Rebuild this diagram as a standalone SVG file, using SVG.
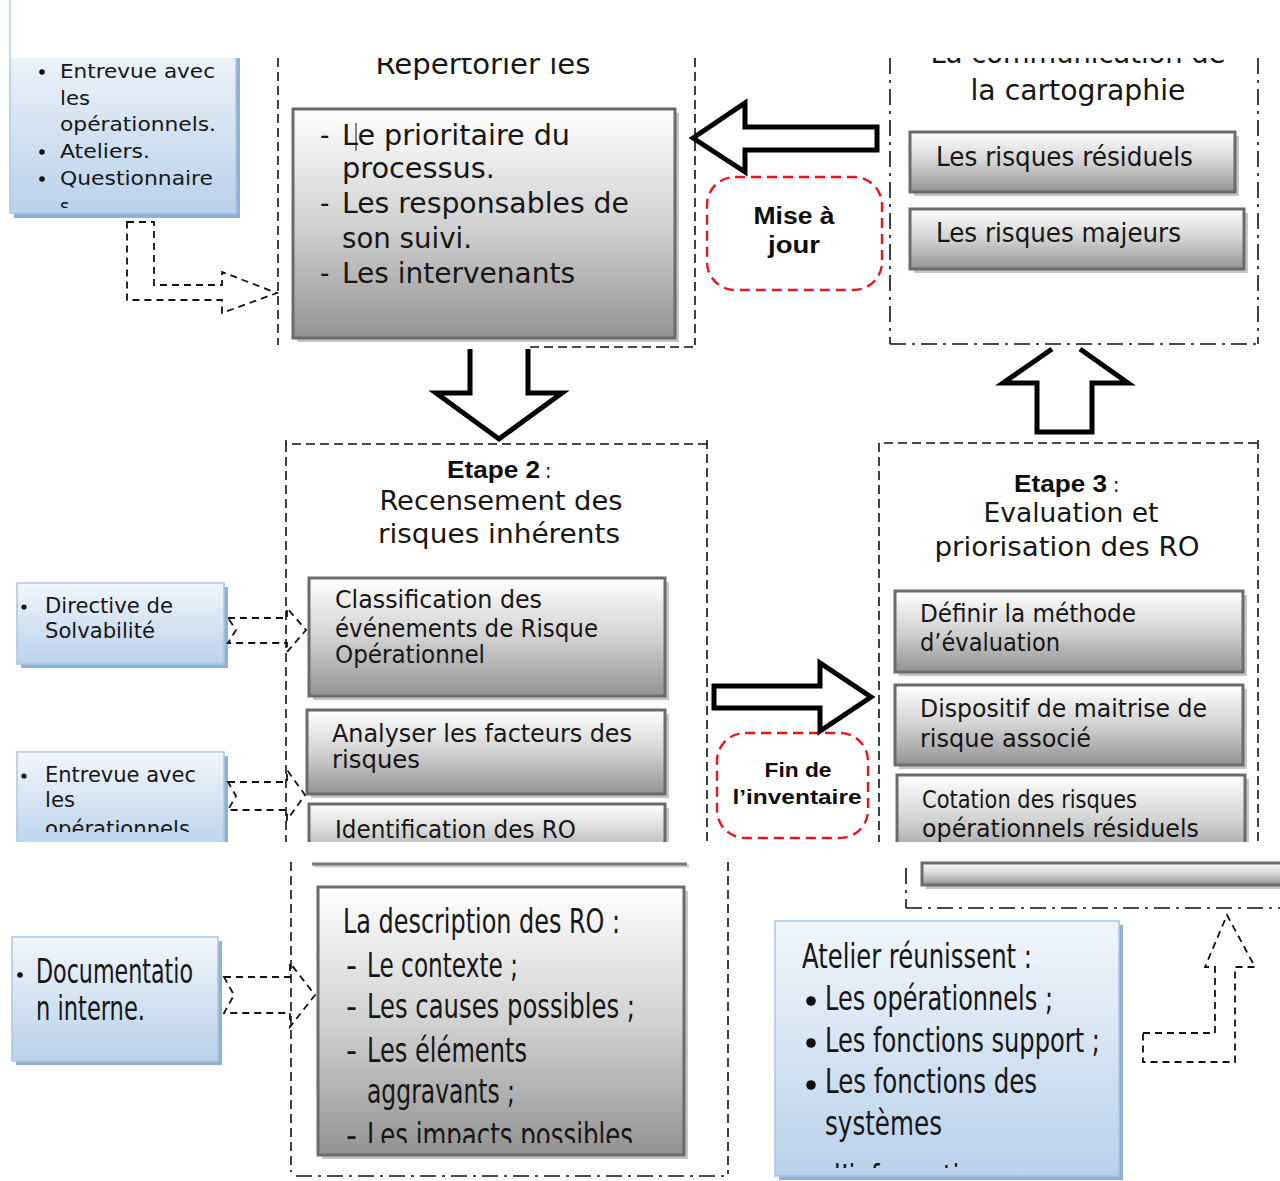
<svg xmlns="http://www.w3.org/2000/svg" width="1280" height="1181" viewBox="0 0 1280 1181">
<style>
.fr{fill:none;stroke:#111;stroke-width:1.6;stroke-dasharray:9 5}
.fdd{fill:none;stroke:#111;stroke-width:1.6;stroke-dasharray:16 6 3 6}
.gbox{fill:url(#gg);stroke:#6b6b6b;stroke-width:3}
.gsh{fill:#c6c6c6}
.bbox{fill:url(#bg);stroke:#a9c6e4;stroke-width:1.5}
.bsh{fill:#90b0d4}
.harrow{fill:#fff;stroke:#000;stroke-width:5;stroke-linejoin:miter}
.darrow{fill:none;stroke:#111;stroke-width:1.8;stroke-dasharray:7 5}
.red{fill:none;stroke:#e8141e;stroke-width:2.4;stroke-dasharray:10 6}
.u{font-family:"DejaVu Sans Condensed","DejaVu Sans",sans-serif;fill:#161616}
.n{font-family:"Liberation Sans Narrow","DejaVu Sans Condensed","Liberation Sans",sans-serif;fill:#161616;font-size:34px}
.b{font-family:"Liberation Sans",Arial,sans-serif;font-weight:bold;fill:#0d0d0d}
</style>
<defs>
<linearGradient id="gg" x1="0" y1="0" x2="0" y2="1">
<stop offset="0" stop-color="#ffffff"/><stop offset="0.5" stop-color="#d2d2d2"/><stop offset="1" stop-color="#939393"/>
</linearGradient>
<linearGradient id="bg" x1="0" y1="0" x2="0" y2="1">
<stop offset="0" stop-color="#f1f6fc"/><stop offset="1" stop-color="#b9d1ea"/>
</linearGradient>
<clipPath id="cUp"><rect x="0" y="58" width="1280" height="784"/></clipPath>
<clipPath id="cTL"><rect x="10" y="58" width="230" height="150"/></clipPath>
<clipPath id="cEnt"><rect x="17" y="752" width="210" height="80"/></clipPath>
<clipPath id="cDesc"><rect x="318" y="887" width="366" height="256"/></clipPath>
<clipPath id="cAt"><rect x="775" y="921" width="348" height="247"/></clipPath>
</defs>
<rect width="1280" height="1181" fill="#fff"/>
<line x1="10" y1="0" x2="10" y2="58" stroke="#b7cfe9" stroke-width="1.5"/>

<g clip-path="url(#cUp)">
<g id="frames-top">
<line class="fr" x1="278" y1="58" x2="278" y2="345"/>
<line class="fr" x1="695" y1="58" x2="695" y2="345"/>
<line class="fr" x1="530" y1="347" x2="695" y2="347"/>
<line class="fdd" x1="890" y1="58" x2="890" y2="344"/>
<line class="fdd" x1="1258" y1="58" x2="1258" y2="344"/>
<line class="fdd" x1="890" y1="344" x2="1258" y2="344"/>
</g>
<g id="frame-etape2">
<path class="fr" d="M286,844 L286,444 L707,444 M286,440 L286,449 M707,440 L707,844"/>
</g>
<g id="frame-etape3">
<path class="fr" d="M879,844 L879,443 L1258,443 M1258,440 L1258,844"/>
</g>

<g id="node-methodes">
<rect class="bsh" x="14" y="44" width="226" height="174"/>
<rect class="bbox" x="10" y="40" width="226" height="173"/>
<g clip-path="url(#cTL)">
<circle cx="42" cy="72" r="2.8" fill="#111"/>
<circle cx="42" cy="152" r="2.8" fill="#111"/>
<circle cx="42" cy="179" r="2.8" fill="#111"/>
<g class="u" font-size="20">
<text x="60" y="78" textLength="155" lengthAdjust="spacingAndGlyphs">Entrevue avec</text>
<text x="60" y="105" textLength="30" lengthAdjust="spacingAndGlyphs">les</text>
<text x="60" y="131" textLength="156" lengthAdjust="spacingAndGlyphs">opérationnels.</text>
<text x="60" y="158" textLength="90" lengthAdjust="spacingAndGlyphs">Ateliers.</text>
<text x="60" y="185" textLength="153" lengthAdjust="spacingAndGlyphs">Questionnaire</text>
<text x="60" y="213">s</text>
</g>
</g>
</g>

<g id="node-repertorier">
<text class="u" font-size="29" x="483" y="74" text-anchor="middle" textLength="215" lengthAdjust="spacingAndGlyphs">Répertorier les</text>
<rect class="gsh" x="297" y="113" width="382" height="229"/>
<rect class="gbox" x="293" y="109" width="382" height="229"/>
<g class="u" font-size="29">
<text x="320" y="145">-</text>
<text x="342" y="145" textLength="228" lengthAdjust="spacingAndGlyphs">Le prioritaire du</text>
<text x="342" y="178" textLength="153" lengthAdjust="spacingAndGlyphs">processus.</text>
<text x="320" y="213">-</text>
<text x="342" y="213" textLength="287" lengthAdjust="spacingAndGlyphs">Les responsables de</text>
<text x="342" y="248" textLength="130" lengthAdjust="spacingAndGlyphs">son suivi.</text>
<text x="320" y="283">-</text>
<text x="342" y="283" textLength="233" lengthAdjust="spacingAndGlyphs">Les intervenants</text>
</g>
<line x1="356" y1="123" x2="356" y2="151" stroke="#111" stroke-width="1"/>
</g>

<g id="node-mise-a-jour">
<rect class="red" x="707" y="177" width="175" height="113" rx="28"/>
<text class="b" font-size="23" x="794" y="224" text-anchor="middle" textLength="81" lengthAdjust="spacingAndGlyphs">Mise à</text>
<text class="b" font-size="23" x="794" y="253" text-anchor="middle" textLength="52" lengthAdjust="spacingAndGlyphs">jour</text>
</g>

<g id="node-communication">
<text class="u" font-size="29" x="1078" y="63" text-anchor="middle" textLength="295" lengthAdjust="spacingAndGlyphs">La communication de</text>
<text class="u" font-size="29" x="1078" y="100" text-anchor="middle" textLength="215" lengthAdjust="spacingAndGlyphs">la cartographie</text>
<rect class="gsh" x="914" y="136" width="325" height="60"/>
<rect class="gbox" x="910" y="132" width="325" height="60"/>
<text class="u" font-size="26" x="936" y="166" textLength="257" lengthAdjust="spacingAndGlyphs">Les risques résiduels</text>
<rect class="gsh" x="914" y="213" width="334" height="60"/>
<rect class="gbox" x="910" y="209" width="334" height="60"/>
<text class="u" font-size="26" x="936" y="242" textLength="245" lengthAdjust="spacingAndGlyphs">Les risques majeurs</text>
</g>

<g id="node-etape2">
<text class="b" font-size="23" x="447" y="478" textLength="93" lengthAdjust="spacingAndGlyphs">Etape 2</text>
<text class="u" font-size="21" x="545" y="478">:</text>
<text class="u" font-size="26" x="501" y="510" text-anchor="middle" textLength="243" lengthAdjust="spacingAndGlyphs">Recensement des</text>
<text class="u" font-size="26" x="499" y="543" text-anchor="middle" textLength="242" lengthAdjust="spacingAndGlyphs">risques inhérents</text>
<rect class="gsh" x="313" y="582" width="356" height="118"/>
<rect class="gbox" x="309" y="578" width="356" height="118"/>
<g class="u" font-size="24">
<text x="335" y="608" textLength="207" lengthAdjust="spacingAndGlyphs">Classification des</text>
<text x="335" y="637" textLength="263" lengthAdjust="spacingAndGlyphs">événements de Risque</text>
<text x="335" y="663" textLength="150" lengthAdjust="spacingAndGlyphs">Opérationnel</text>
</g>
<rect class="gsh" x="311" y="714" width="358" height="84"/>
<rect class="gbox" x="307" y="710" width="358" height="84"/>
<g class="u" font-size="24">
<text x="332" y="742" textLength="300" lengthAdjust="spacingAndGlyphs">Analyser les facteurs des</text>
<text x="332" y="768" textLength="88" lengthAdjust="spacingAndGlyphs">risques</text>
</g>
<rect class="gsh" x="313" y="808" width="356" height="60"/>
<rect class="gbox" x="309" y="804" width="356" height="60"/>
<text class="u" font-size="24" x="335" y="838" textLength="241" lengthAdjust="spacingAndGlyphs">Identification des RO</text>
</g>

<g id="node-directive">
<rect class="bsh" x="21" y="587" width="207" height="81"/>
<rect class="bbox" x="17" y="583" width="207" height="81"/>
<circle cx="24" cy="607" r="2.6" fill="#111"/>
<g class="u" font-size="21">
<text x="45" y="613" textLength="128" lengthAdjust="spacingAndGlyphs">Directive de</text>
<text x="45" y="638" textLength="110" lengthAdjust="spacingAndGlyphs">Solvabilité</text>
</g>
</g>

<g id="node-entrevue">
<rect class="bsh" x="21" y="756" width="207" height="100"/>
<rect class="bbox" x="17" y="752" width="207" height="100"/>
<circle cx="24" cy="776" r="2.6" fill="#111"/>
<g clip-path="url(#cEnt)" class="u" font-size="21">
<text x="45" y="782" textLength="151" lengthAdjust="spacingAndGlyphs">Entrevue avec</text>
<text x="45" y="807" textLength="30" lengthAdjust="spacingAndGlyphs">les</text>
<text x="45" y="836" textLength="145" lengthAdjust="spacingAndGlyphs">opérationnels</text>
</g>
</g>

<g id="node-fin-inventaire">
<rect class="red" x="717" y="733" width="151" height="105" rx="28"/>
<text class="b" font-size="21" x="798" y="777" text-anchor="middle" textLength="67" lengthAdjust="spacingAndGlyphs">Fin de</text>
<text class="b" font-size="21" x="797" y="804" text-anchor="middle" textLength="129" lengthAdjust="spacingAndGlyphs">l’inventaire</text>
</g>

<g id="node-etape3">
<text class="b" font-size="23" x="1014" y="492" textLength="93" lengthAdjust="spacingAndGlyphs">Etape 3</text>
<text class="u" font-size="21" x="1113" y="492">:</text>
<text class="u" font-size="26" x="1071" y="522" text-anchor="middle" textLength="175" lengthAdjust="spacingAndGlyphs">Evaluation et</text>
<text class="u" font-size="26" x="1067" y="556" text-anchor="middle" textLength="265" lengthAdjust="spacingAndGlyphs">priorisation des RO</text>
<rect class="gsh" x="899" y="595" width="348" height="81"/>
<rect class="gbox" x="895" y="591" width="348" height="81"/>
<g class="u" font-size="24">
<text x="920" y="622" textLength="216" lengthAdjust="spacingAndGlyphs">Définir la méthode</text>
<text x="920" y="651" textLength="140" lengthAdjust="spacingAndGlyphs">d’évaluation</text>
</g>
<rect class="gsh" x="899" y="689" width="348" height="80"/>
<rect class="gbox" x="895" y="685" width="348" height="80"/>
<g class="u" font-size="24">
<text x="920" y="717" textLength="287" lengthAdjust="spacingAndGlyphs">Dispositif de maitrise de</text>
<text x="920" y="747" textLength="171" lengthAdjust="spacingAndGlyphs">risque associé</text>
</g>
<rect class="gsh" x="901" y="779" width="348" height="90"/>
<rect class="gbox" x="897" y="775" width="348" height="90"/>
<g class="u" font-size="24">
<text x="922" y="808" textLength="215" lengthAdjust="spacingAndGlyphs">Cotation des risques</text>
<text x="922" y="837" textLength="277" lengthAdjust="spacingAndGlyphs">opérationnels résiduels</text>
</g>
</g>

<g id="connectors-top">
<path class="darrow" d="M127,222 L154,222 L154,285 L222,285 L222,272 L277,293 L222,313 L222,300 L127,300 Z"/>
<polygon class="harrow" points="693,138 745,103 745,127 877,127 877,150 745,150 745,172"/>
<path class="harrow" d="M470,349 L470,393 L436,393 L499,439 L562,393 L528,393 L528,349"/>
<path class="harrow" d="M1052,349 L1003,383 L1037,383 L1037,432 L1092,432 L1092,383 L1128,383 L1080,349"/>
<polygon class="harrow" points="714,686 820,686 820,663 871,697 820,731 820,708 714,708"/>
<polygon class="darrow" points="228,618 287,618 287,608 306,630 287,652 287,643 228,643 236,630"/>
<polygon class="darrow" points="228,782 287,782 287,770 305,795 287,820 287,810 228,810 236,796"/>
</g>
</g>

<g id="frames-bottom">
<line class="fr" x1="291" y1="862" x2="291" y2="1172"/>
<line class="fr" x1="728" y1="862" x2="728" y2="1174"/>
<line class="fdd" x1="296" y1="1176" x2="728" y2="1176"/>
<line class="fdd" x1="906" y1="868" x2="906" y2="908"/>
<line class="fdd" x1="906" y1="908" x2="1280" y2="908"/>
</g>

<g id="node-box-above-left">
<line x1="314" y1="866" x2="689" y2="866" stroke="#cfcfcf" stroke-width="3"/>
<line x1="312" y1="864" x2="687" y2="864" stroke="#777" stroke-width="3"/>
</g>

<g id="node-box-above-right">
<rect class="gsh" x="926" y="867" width="370" height="22"/>
<rect class="gbox" x="922" y="863" width="370" height="22"/>
</g>

<g id="node-description">
<rect class="gsh" x="322" y="891" width="366" height="268"/>
<rect class="gbox" x="318" y="887" width="366" height="268"/>
<g clip-path="url(#cDesc)">
<text class="n" x="343" y="933" textLength="277" lengthAdjust="spacingAndGlyphs">La description des RO :</text>
<text class="n" x="346" y="977">-</text>
<text class="n" x="367" y="977" textLength="151" lengthAdjust="spacingAndGlyphs">Le contexte ;</text>
<text class="n" x="346" y="1018">-</text>
<text class="n" x="367" y="1018" textLength="268" lengthAdjust="spacingAndGlyphs">Les causes possibles ;</text>
<text class="n" x="346" y="1062">-</text>
<text class="n" x="367" y="1062" textLength="160" lengthAdjust="spacingAndGlyphs">Les éléments</text>
<text class="n" x="367" y="1103" textLength="148" lengthAdjust="spacingAndGlyphs">aggravants ;</text>
<text class="n" x="346" y="1147">-</text>
<text class="n" x="367" y="1147" textLength="266" lengthAdjust="spacingAndGlyphs">Les impacts possibles</text>
</g>
</g>

<g id="node-documentation">
<rect class="bsh" x="16" y="941" width="206" height="124"/>
<rect class="bbox" x="12" y="937" width="206" height="124"/>
<circle cx="20" cy="975" r="2.8" fill="#111"/>
<text class="n" x="36" y="983" textLength="157" lengthAdjust="spacingAndGlyphs">Documentatio</text>
<text class="n" x="36" y="1020" textLength="109" lengthAdjust="spacingAndGlyphs">n interne.</text>
</g>

<g id="node-atelier">
<rect class="bsh" x="779" y="925" width="344" height="255"/>
<rect class="bbox" x="775" y="921" width="344" height="255"/>
<g clip-path="url(#cAt)">
<text class="n" x="802" y="968" textLength="230" lengthAdjust="spacingAndGlyphs">Atelier réunissent :</text>
<circle cx="811" cy="1001" r="4.8" fill="#111"/>
<circle cx="811" cy="1043" r="4.8" fill="#111"/>
<circle cx="811" cy="1085" r="4.8" fill="#111"/>
<text class="n" x="825" y="1010" textLength="228" lengthAdjust="spacingAndGlyphs">Les opérationnels ;</text>
<text class="n" x="825" y="1052" textLength="275" lengthAdjust="spacingAndGlyphs">Les fonctions support ;</text>
<text class="n" x="825" y="1093" textLength="212" lengthAdjust="spacingAndGlyphs">Les fonctions des</text>
<text class="n" x="825" y="1135" textLength="117" lengthAdjust="spacingAndGlyphs">systèmes</text>
<text class="n" x="825" y="1189" textLength="165" lengthAdjust="spacingAndGlyphs">d’information</text>
</g>
</g>

<g id="connectors-bottom">
<polygon class="darrow" points="224,977 290,977 290,963 315,995 290,1027 290,1013 224,1013 234,995"/>
<path class="darrow" d="M1143,1033 L1215,1033 L1215,967 L1205,967 L1227,915 L1255,967 L1235,967 L1235,1062 L1143,1062 Z"/>
</g>
</svg>
